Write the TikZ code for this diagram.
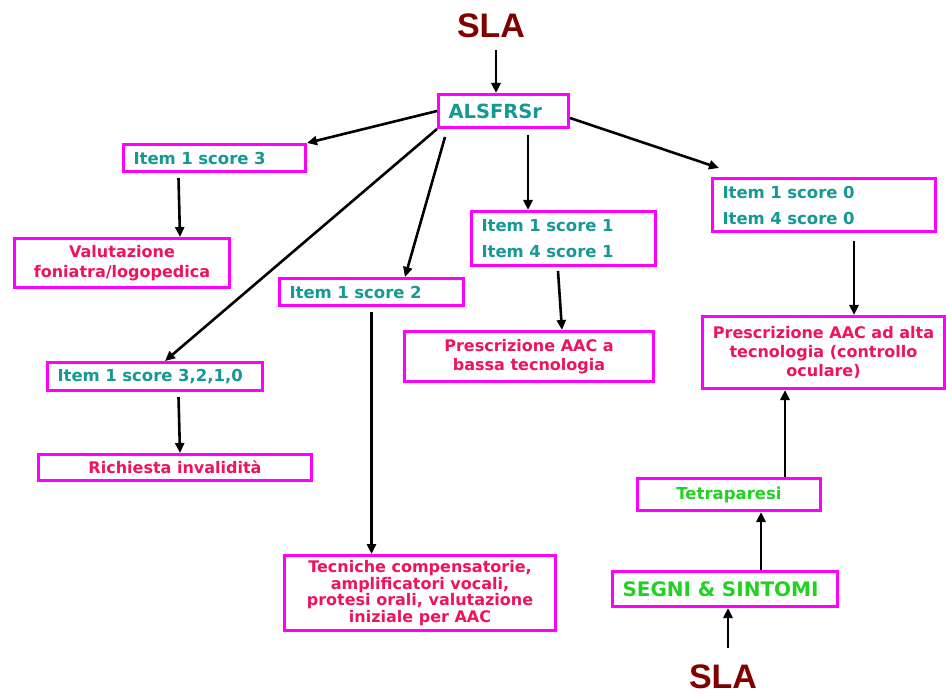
\documentclass[tikz,border=0pt]{standalone}
\usepackage{fontspec}
\setmainfont{DejaVu Sans}
\newfontfamily\slafont{Liberation Sans}
\usetikzlibrary{arrows.meta,calc}
\definecolor{boxmag}{RGB}{255,0,255}
\definecolor{itemteal}{RGB}{22,152,148}
\definecolor{actred}{RGB}{240,18,92}
\definecolor{signgreen}{RGB}{34,210,34}
\definecolor{slared}{RGB}{128,0,0}

\begin{document}
\begin{tikzpicture}[x=1pt,y=-1pt,
  box/.style={draw=boxmag, line width=3pt, rectangle, inner ysep=0pt, inner xsep=10pt},
  lbox/.style={box, align=left},
  cbox/.style={box, align=center},
  teal/.style={text=itemteal, font=\bfseries\fontsize{16.5}{25.5}\selectfont},
  act/.style={text=actred, font=\bfseries\fontsize{16}{19}\selectfont},
  sign/.style={text=signgreen, font=\bfseries\fontsize{16.5}{19}\selectfont},
  slatitle/.style={text=slared, font=\slafont\bfseries\fontsize{34}{38}\selectfont, anchor=base, inner sep=0pt},
  conn/.style={line width=2.6pt, black},
  arr/.style={conn, -{Triangle[length=10pt,width=9pt]}}
]
\useasboundingbox (0,0) rectangle (946,695);

% disease label and scale
\node[slatitle] (sla1) at (491,38) {SLA};
\node[lbox, teal, font=\bfseries\fontsize{19.5}{22}\selectfont, text width=110, minimum height=33] (als) at (503.5,111) {ALSFRSr};

% first level: item scores
\node[lbox, teal, text width=162, minimum height=27] (i3) at (214.5,158) {Item 1 score 3};
\node[lbox, teal, text width=164, minimum height=27] (i2) at (371.5,292) {Item 1 score 2};
\node[lbox, teal, text width=195, minimum height=28] (i3210) at (155,376.5) {Item 1 score 3,2,1,0};
\node[lbox, teal, text width=164, minimum height=54] (i1) at (563.5,238.5) {Item 1 score 1\\Item 4 score 1};
\node[lbox, teal, font=\bfseries\fontsize{16.5}{26}\selectfont, text width=203, minimum height=53] (i0) at (824,205) {Item 1 score 0\\Item 4 score 0};

% actions
\node[cbox, act, font=\bfseries\fontsize{16}{20}\selectfont, minimum width=215, minimum height=49] (val) at (122,263) {Valutazione\\foniatra/logopedica};
\node[cbox, act, minimum width=273, minimum height=26] (ric) at (175,467.5) {Richiesta invalidità};
\node[cbox, act, font=\bfseries\fontsize{16}{16.7}\selectfont, minimum width=271, minimum height=75] (tec) at (420,593)
  {Tecniche compensatorie,\\amplificatori vocali,\\protesi orali, valutazione\\iniziale per AAC};
\node[cbox, act, font=\bfseries\fontsize{16}{18.5}\selectfont, minimum width=249, minimum height=50] (bassa) at (529,356.5)
  {Prescrizione AAC a\\bassa tecnologia};
\node[cbox, act, minimum width=240, minimum height=72] (alta) at (823.5,352.5)
  {Prescrizione AAC ad alta\\tecnologia (controllo\\oculare)};

% clinical signs
\node[cbox, sign, minimum width=183, minimum height=32] (tetra) at (729,494.5) {Tetraparesi};
\node[lbox, sign, font=\bfseries\fontsize{20}{22}\selectfont, text width=205, minimum height=35] (segni) at (725,589) {SEGNI \& SINTOMI};
\node[slatitle] (sla2) at (723,688) {SLA};

% connectors
\draw[arr] ($(sla1.base)+(5,12)$) -- ($(als.north)+(-7.5,0)$);
\draw[arr] (als.west) -- (i3.north east);
\draw[arr] (als.south west) -- ($(i3210.north)+(10,0)$);
\draw[arr] ($(als.south west)+(8,8)$) -- ($(i2.north)+(33.5,0)$);
\draw[arr] ($(als.south)+(24.5,6)$) -- ($(i1.north)+(-35.5,0)$);
\draw[arr] ($(als.east)+(0,7)$) -- ($(i0.north west)+(8,-9)$);

\draw[arr] ($(i3.south west)+(56.5,5)$) -- ($(val.north)+(58,0)$);
\draw[arr] ($(i3210.south west)+(132.5,5)$) -- ($(ric.north)+(5,0)$);
\draw[arr] ($(i2.south)+(0,5)$) -- ($(tec.north)+(-48.5,0)$);
\draw[arr] ($(i1.south)+(-5.5,4)$) -- ($(bassa.north)+(33,0)$);
\draw[arr] ($(i0.south)+(30,8)$) -- ($(alta.north)+(30.5,0)$);

\draw[arr] ($(tetra.north)+(56,0)$) -- ($(alta.south)+(-38.5,0)$);
\draw[arr] ($(segni.north)+(36,0)$) -- ($(tetra.south)+(32,0)$);
\draw[arr] ($(sla2.base)+(5,-40)$) -- ($(segni.south)+(3,0)$);
\end{tikzpicture}
\end{document}
